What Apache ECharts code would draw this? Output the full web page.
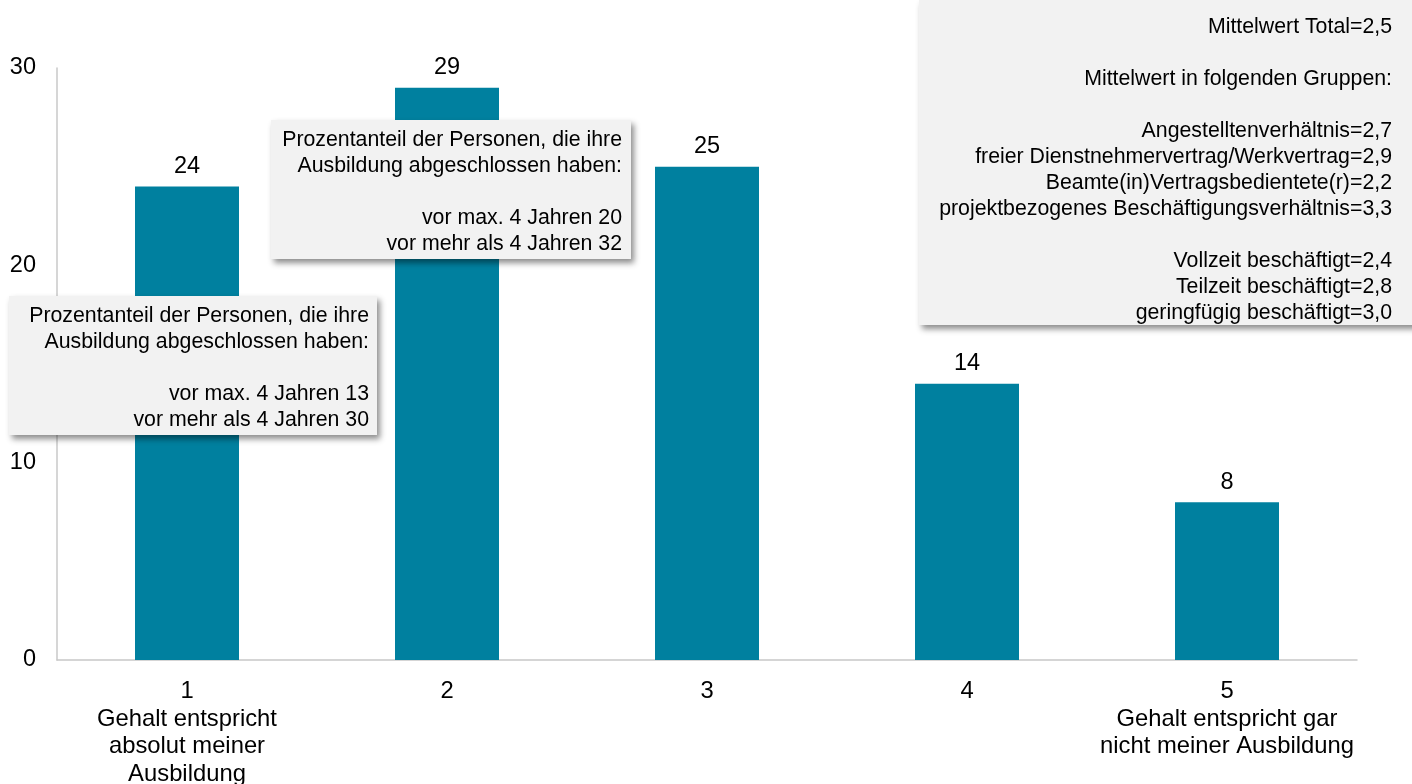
<!DOCTYPE html>
<html>
<head>
<meta charset="utf-8">
<script src="https://cdn.jsdelivr.net/npm/echarts@6/dist/echarts.min.js"></script>
<style>html,body{margin:0;padding:0;background:#fff}#c{width:1412px;height:784px}</style>
</head>
<body>
<div id="c"></div>
<script>
var categories = ['1\nGehalt entspricht\nabsolut meiner\nAusbildung', '2', '3', '4', '5\nGehalt entspricht gar\nnicht meiner Ausbildung'];
var values = [24, 29, 25, 14, 8];
var yTicks = [0, 10, 20, 30];
var box1Lines = ['Prozentanteil der Personen, die ihre', 'Ausbildung abgeschlossen haben:', '', 'vor max. 4 Jahren 13', 'vor mehr als 4 Jahren 30'];
var box2Lines = ['Prozentanteil der Personen, die ihre', 'Ausbildung abgeschlossen haben:', '', 'vor max. 4 Jahren 20', 'vor mehr als 4 Jahren 32'];
var box3Lines = ['Mittelwert Total=2,5', '', 'Mittelwert in folgenden Gruppen:', '', 'Angestelltenverhältnis=2,7', 'freier Dienstnehmervertrag/Werkvertrag=2,9', 'Beamte(in)Vertragsbedientete(r)=2,2', 'projektbezogenes Beschäftigungsverhältnis=3,3', '', 'Vollzeit beschäftigt=2,4', 'Teilzeit beschäftigt=2,8', 'geringfügig beschäftigt=3,0'];

var FF = '"Liberation Sans", Arial, sans-serif';
var FONT = '21.3px ' + FF;
function box(x, y, w, h, lines, textRight, textTop) {
  return {
    type: 'group', z: 100,
    children: [
      { type: 'rect', z: 100, shape: { x: x, y: y, width: w, height: h },
        style: { fill: '#f2f2f2', shadowBlur: 6, shadowOffsetX: 3, shadowOffsetY: 4, shadowColor: 'rgba(0,0,0,0.45)' } },
      { type: 'text', z: 101, style: { x: textRight, y: textTop, text: lines.join('\n'), align: 'right', verticalAlign: 'top',
        font: FONT, fill: '#000', lineHeight: 26 } }
    ]
  };
}

var chart = echarts.init(document.getElementById('c'));
chart.setOption({
  animation: false,
  textStyle: { fontFamily: FF },
  grid: { left: 57, right: 55, top: 68, bottom: 124, outerBoundsMode: 'none', containLabel: false },
  xAxis: {
    type: 'category', data: categories,
    axisLine: { show: true, lineStyle: { color: '#c8c8c8', width: 1.5 } },
    axisTick: { show: false },
    axisLabel: { color: '#000', fontSize: 23.8, lineHeight: 27.5, margin: 18, interval: 0 }
  },
  yAxis: {
    type: 'value', min: 0, max: 30, interval: 10,
    axisLine: { show: true, lineStyle: { color: '#c8c8c8', width: 1.5 } },
    axisTick: { show: false },
    splitLine: { show: false },
    axisLabel: { color: '#000', fontSize: 23.5, margin: 21, padding: [6, 0, 0, 0],
      formatter: function (v) { return yTicks.indexOf(v) >= 0 ? String(v) : ''; } }
  },
  series: [{
    type: 'bar', data: values, barWidth: '40%',
    itemStyle: { color: '#00809f' },
    label: { show: true, position: 'top', distance: 8, color: '#000', fontSize: 23.5 }
  }],
  graphic: [
    box(9, 296, 368, 139, box1Lines, 369, 303),
    box(271, 120, 360, 139, box2Lines, 622, 127),
    box(919, 0, 500, 325, box3Lines, 1392, 14)
  ]
});
</script>
</body>
</html>
